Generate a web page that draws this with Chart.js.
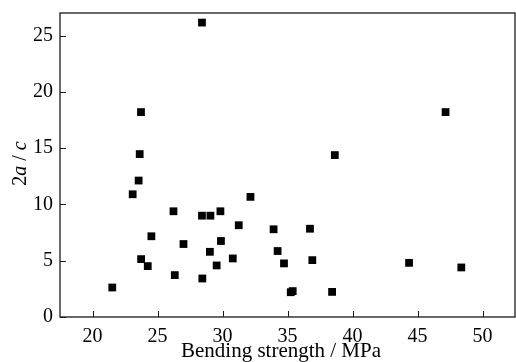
<!DOCTYPE html>
<html>
<head>
<meta charset="utf-8">
<script src="https://cdn.jsdelivr.net/npm/chart.js@4.4.1/dist/chart.umd.min.js"></script>
<style>
  html, body { margin: 0; padding: 0; background: #fff; }
  #wrap { width: 516px; height: 362px; }
</style>
</head>
<body>
<div id="wrap"><canvas id="grafico" width="516" height="362"></canvas></div>
<script>
// bending strength (MPa) vs 2a/c
const strength = [28.42, 23.73, 23.63, 23.55, 23.09, 21.52, 23.74, 24.25, 24.53, 26.23,
  26.33, 27.0, 28.45, 28.42, 29.07, 29.03, 29.55, 29.84, 29.88, 30.79,
  31.25, 32.15, 33.93, 34.24, 34.73, 35.25, 35.4, 36.73, 36.91, 38.43,
  38.64, 44.35, 47.16, 48.37];
const ratio = [26.15, 18.2, 14.47, 12.12, 10.9, 2.62, 5.14, 4.52, 7.17, 9.39,
  3.72, 6.48, 3.42, 9.0, 9.0, 5.79, 4.58, 9.39, 6.75, 5.2,
  8.15, 10.67, 7.79, 5.86, 4.76, 2.2, 2.3, 7.84, 5.05, 2.23,
  14.38, 4.81, 18.2, 4.4];
const xTicks = [20, 25, 30, 35, 40, 45, 50];
const yTicks = [0, 5, 10, 15, 20, 25];

const serif = "'Liberation Serif', 'DejaVu Serif', serif";
const axisColor = "#1a1a1a";

// inner ticks, frame and the axis titles
const frame = {
  id: "frame",
  afterDraw(chart) {
    const { ctx, chartArea: a, scales } = chart;
    ctx.save();
    ctx.strokeStyle = axisColor;
    ctx.lineWidth = 1.3;
    ctx.strokeRect(a.left, a.top, a.right - a.left, a.bottom - a.top);

    ctx.lineWidth = 1;
    xTicks.forEach(v => {
      const x = Math.round(scales.x.getPixelForValue(v)) + 0.5;
      ctx.beginPath();
      ctx.moveTo(x, a.bottom);
      ctx.lineTo(x, a.bottom - 6);
      ctx.stroke();
    });
    yTicks.forEach(v => {
      const y = Math.round(scales.y.getPixelForValue(v)) + 0.5;
      ctx.beginPath();
      ctx.moveTo(a.left, y);
      ctx.lineTo(a.left + 6, y);
      ctx.stroke();
    });

    ctx.fillStyle = "#000";
    ctx.font = "21px " + serif;
    ctx.textAlign = "center";
    ctx.textBaseline = "alphabetic";
    ctx.fillText("Bending strength / MPa", 281, 357);

    // y title with italic a and c
    const parts = [["2", false], ["a", true], [" / ", false], ["c", true]];
    const fontOf = it => (it ? "italic " : "") + "20px " + serif;
    let total = 0;
    parts.forEach(p => { ctx.font = fontOf(p[1]); total += ctx.measureText(p[0]).width; });
    ctx.translate(26, 163.5);
    ctx.rotate(-Math.PI / 2);
    ctx.textAlign = "left";
    let pos = -total / 2;
    parts.forEach(p => {
      ctx.font = fontOf(p[1]);
      ctx.fillText(p[0], pos, 0);
      pos += ctx.measureText(p[0]).width;
    });
    ctx.restore();
  }
};

new Chart(document.getElementById("grafico"), {
  type: "scatter",
  data: {
    datasets: [{
      data: strength.map((x, i) => ({ x, y: ratio[i] })),
      pointStyle: "rect",
      pointRadius: 5.5,
      pointHoverRadius: 5.5,
      backgroundColor: "#000",
      borderWidth: 0
    }]
  },
  options: {
    responsive: false,
    animation: false,
    layout: { autoPadding: false, padding: { top: 13, right: 1, left: 0, bottom: 0 } },
    plugins: { legend: { display: false }, tooltip: { enabled: false } },
    scales: {
      x: {
        type: "linear",
        min: 17.5,
        max: 52.5,
        afterFit: s => { s.height = 45; s.paddingLeft = 0; s.paddingRight = 0; },
        afterBuildTicks: s => { s.ticks = xTicks.map(v => ({ value: v })); },
        grid: { display: false, drawTicks: false },
        border: { display: false },
        ticks: { color: "#000", padding: 8, maxRotation: 0, font: { family: serif, size: 20 } }
      },
      y: {
        type: "linear",
        min: 0,
        max: 27,
        afterFit: s => { s.width = 60; s.paddingTop = 0; s.paddingBottom = 0; },
        afterBuildTicks: s => { s.ticks = yTicks.map(v => ({ value: v })); },
        grid: { display: false, drawTicks: false },
        border: { display: false },
        ticks: { color: "#000", padding: 7, font: { family: serif, size: 20 } }
      }
    }
  },
  plugins: [frame]
});
</script>
</body>
</html>
